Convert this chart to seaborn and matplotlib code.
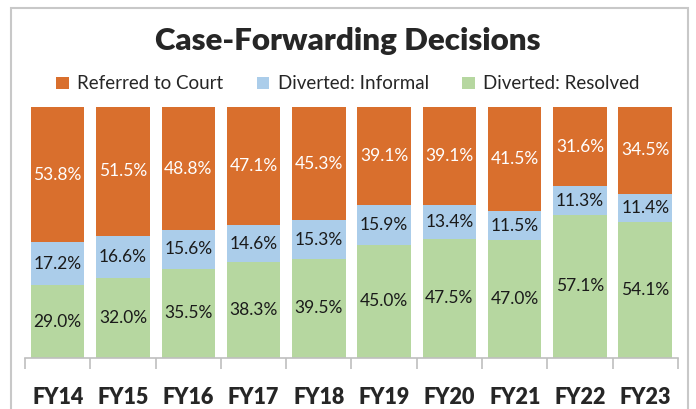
import numpy as np
import pandas as pd
import matplotlib
matplotlib.use("Agg")
import matplotlib.pyplot as plt
from matplotlib.patches import Patch, Rectangle
import seaborn as sns

# ------------------------------------------------------------
# data (percent of cases)
# ------------------------------------------------------------
years = ["FY14", "FY15", "FY16", "FY17", "FY18", "FY19", "FY20", "FY21", "FY22", "FY23"]
referred = [53.8, 51.5, 48.8, 47.1, 45.3, 39.1, 39.1, 41.5, 31.6, 34.5]
informal = [17.2, 16.6, 15.6, 14.6, 15.3, 15.9, 13.4, 11.5, 11.3, 11.4]
resolved = [29.0, 32.0, 35.5, 38.3, 39.5, 45.0, 47.5, 47.0, 57.1, 54.1]

series = ["Referred to Court", "Diverted: Informal", "Diverted: Resolved"]
colors = ["#D96F2D", "#ABCDEA", "#B6D7A0"]

df = pd.DataFrame({"year": years, "referred": referred,
                   "informal": informal, "resolved": resolved})
df["top_resolved"] = df["resolved"]
df["top_informal"] = df["resolved"] + df["informal"]
df["top_referred"] = df["top_informal"] + df["referred"]

sns.set_style("white")
plt.rcParams["font.family"] = ["Lato", "DejaVu Sans"]

fig = plt.figure(figsize=(6.96, 4.09), dpi=100)
ax = fig.add_axes([0.036, 0.125, 0.938, 0.613])

# stacked bars: draw the tallest cumulative first
for col, c in zip(["top_referred", "top_informal", "top_resolved"], colors):
    sns.barplot(data=df, x="year", y=col, color=c, saturation=1,
                width=0.82, linewidth=0, ax=ax)

# labels in the middle of each segment
for i, row in df.iterrows():
    segs = [(row["top_informal"], row["referred"], "white"),
            (row["top_resolved"], row["informal"], "#1a1a1a"),
            (0, row["resolved"], "#1a1a1a")]
    for base, h, tc in segs:
        ax.text(i, base + h / 2, f"{h:.1f}%", ha="center", va="center",
                fontsize=12.5, color=tc)

ax.set_ylim(0, 100)
ax.set_xlim(-0.5, len(years) - 0.5)
ax.set_xlabel("")
ax.set_ylabel("")
ax.set_yticks([])
for s in ["top", "left", "right"]:
    ax.spines[s].set_visible(False)
ax.spines["bottom"].set_color("#BFBFBF")
ax.spines["bottom"].set_linewidth(1.2)

ax.set_xticks(np.arange(-0.5, len(years)), minor=True)
ax.tick_params(axis="x", which="minor", length=8, width=1.2, color="#BFBFBF",
               direction="out", bottom=True)
ax.tick_params(axis="x", which="major", length=0, pad=21)
for lab in ax.get_xticklabels():
    lab.set_fontsize(15.5)
    lab.set_fontweight("heavy")

fig.text(0.5, 0.9, "Case-Forwarding Decisions", ha="center", va="center",
         fontsize=22.5, fontweight="heavy")

handles = [Patch(facecolor=c, edgecolor="none") for c in colors]
fig.legend(handles, series, loc="center", bbox_to_anchor=(0.5, 0.795), ncol=3,
           frameon=False, fontsize=13.5, handlelength=0.65, handleheight=0.65,
           handletextpad=0.45, columnspacing=1.8)

# outer frame of the chart area
fig.patches.append(Rectangle((11 / 696, -0.05), 677 / 696, 1.05 - 8 / 409,
                             transform=fig.transFigure, fill=False,
                             edgecolor="#C8C8C8", linewidth=1.5))

fig.savefig("out.png", dpi=100)
